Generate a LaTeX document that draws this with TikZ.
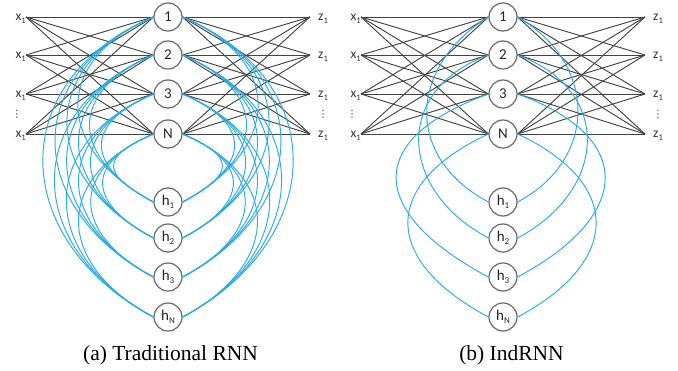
\documentclass[tikz,border=0pt]{standalone}
\usepackage{fontspec}
\setmainfont{Carlito}
\newfontfamily\capfont{Liberation Serif}
\newfontfamily\symfont{DejaVu Sans}
\definecolor{recblue}{RGB}{40,172,228}
\definecolor{wiregray}{RGB}{68,68,68}
\definecolor{ringgray}{RGB}{105,105,105}
\newcommand\lowidx[2][9]{\raisebox{-2.6pt}{\fontsize{#1}{#1}\selectfont #2}}
\pgfdeclarelayer{back}
\pgfsetlayers{back,main}
\tikzset{
  unit/.style={circle, draw=ringgray, line width=1.2pt, fill=white,
    minimum size=28pt, inner sep=0pt, font=\fontsize{15}{15}\selectfont, text=black!85},
  iolabel/.style={inner sep=0pt, font=\fontsize{13.5}{13.5}\selectfont, text=black!80},
  ellip/.style={inner sep=0pt, font=\symfont\fontsize{10}{10}\selectfont, text=black!80},
  wire/.style={draw=wiregray, line width=0.95pt},
  rec/.style={draw=recblue, line width=0.95pt},
  caption/.style={font=\capfont\fontsize{21.5}{22}\selectfont, anchor=base, inner sep=0pt},
}
\begin{document}
\begin{tikzpicture}[x=1pt,y=1pt]
\useasboundingbox (0,0) rectangle (678,-371);

\foreach \p/\cx in {a/168, b/503} {
  % hidden units of the layer
  \foreach \k/\y/\t in {1/17/1, 2/55/2, 3/94/3, 4/134/N}
    \node[unit] (\p u\k) at (\cx,-\y) {\t};
  % unrolled recurrent states
  \foreach \k/\y/\t in {1/202/1, 2/238/2, 3/277/3, 4/317/N}
    \node[unit] (\p h\k) at (\cx,-\y) {h\lowidx{\t}};
  % inputs and outputs
  \foreach \i/\y in {1/17, 2/55, 3/94, 4/134} {
    \node[iolabel, anchor=east] (\p x\i) at (\cx-142,-\y-1.5) {x\lowidx[8.5]{1}};
    \node[iolabel, anchor=west] (\p z\i) at (\cx+150,-\y-1.5) {z\lowidx[8.5]{1}};
  }
  \node[ellip] (\p xd) at (\cx-151,-114) {⋮};
  \node[ellip] (\p zd) at (\cx+155,-114) {⋮};
  % full connections input -> layer -> output
  \begin{pgfonlayer}{back}
    \foreach \i in {1,...,4} \foreach \k in {1,...,4} {
      \draw[wire] ([yshift=1.5pt]\p x\i.east) -- (\p u\k.west);
      \draw[wire] (\p u\k.east) -- ([xshift=-8pt,yshift=1.5pt]\p z\i.west);
    }
  \end{pgfonlayer}
}

% traditional RNN: every state feeds every unit
\foreach \k in {1,...,4} \foreach \j in {1,...,4} {
  \pgfmathsetmacro\ya{{17,55,94,134}[\k-1]}
  \pgfmathsetmacro\yb{{202,238,277,317}[\j-1]}
  \pgfmathsetmacro\dd{0.451*(\yb-\ya)+28.2}
  \draw[rec] (au\k.west) to[out=203, in=152, distance=\dd pt] (ah\j.west);
  \draw[rec] (au\k.east) to[out=-23, in=28, distance=\dd pt] (ah\j.east);
}

% IndRNN: each unit only sees its own state
\foreach \k/\dlft/\alft/\drgt/\argt in {1/95/212/92/-30, 2/102/200/102/-20, 3/135/200/128/-20, 4/120/205/117/-25} {
  \draw[rec] (bu\k.west) to[out=\alft, in=152, distance=\dlft pt] (bh\k.west);
  \draw[rec] (bu\k.east) to[out=\argt, in=28, distance=\drgt pt] (bh\k.east);
}

\node[caption] (capa) at (170.5,-361) {(a) Traditional RNN};
\node[caption] (capb) at (511.5,-361) {(b) IndRNN};
\end{tikzpicture}
\end{document}
